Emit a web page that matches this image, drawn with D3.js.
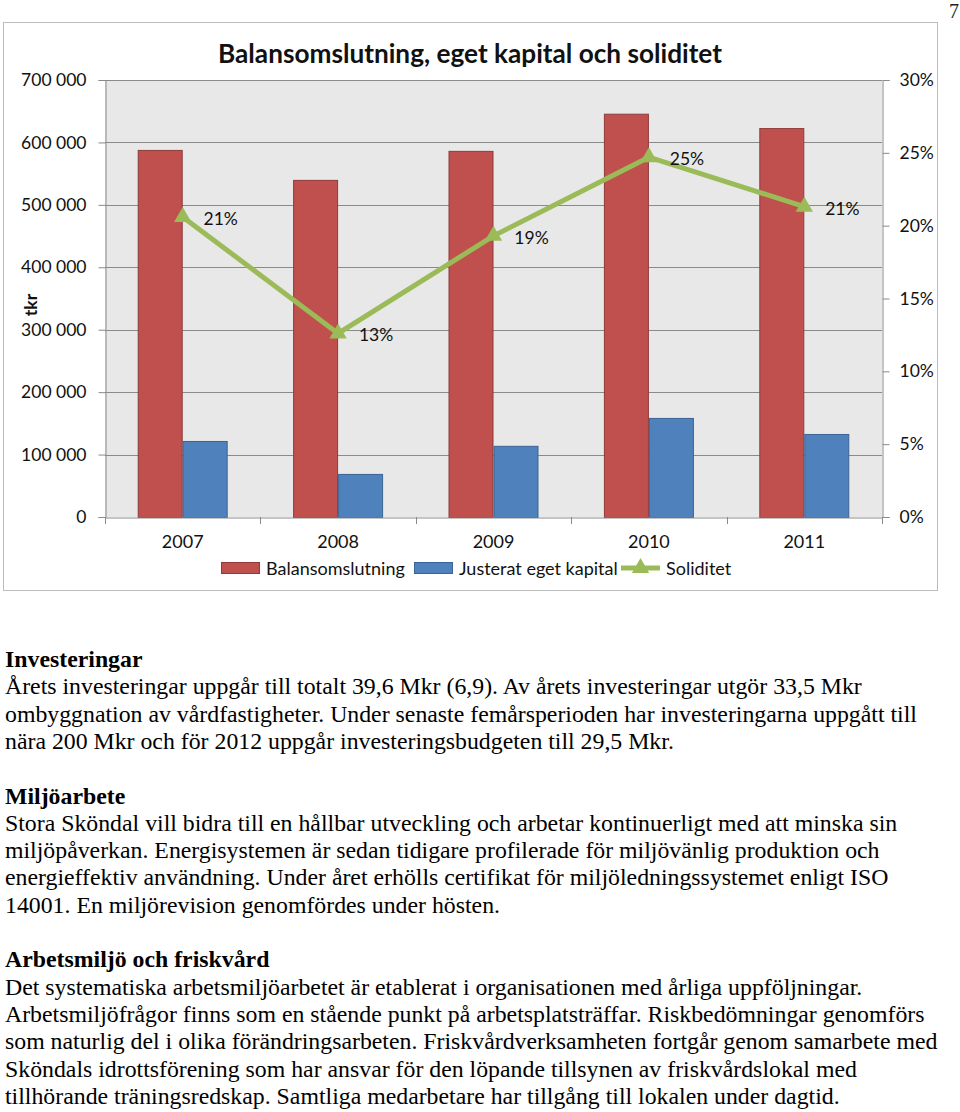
<!DOCTYPE html>
<html><head><meta charset="utf-8">
<script src="https://cdn.jsdelivr.net/npm/d3@7"></script>
<style>html,body{margin:0;padding:0;background:#fff;}svg{display:block;}</style>
</head><body>
<svg id="page" width="960" height="1112"></svg>
<script>
const years = ["2007", "2008", "2009", "2010", "2011"];
const balansomslutning = [588000, 540000, 586500, 646000, 623000];
const justeratEgetKapital = [121800, 69000, 114000, 158700, 133000];
const soliditet = [0.206, 0.126, 0.193, 0.247, 0.213];
const soliditetLabels = ["21%", "13%", "19%", "25%", "21%"];
const leftTicks = [0, 100000, 200000, 300000, 400000, 500000, 600000, 700000];
const rightTicks = [0, 0.05, 0.10, 0.15, 0.20, 0.25, 0.30];
const seriesNames = ["Balansomslutning", "Justerat eget kapital", "Soliditet"];
const chartTitle = "Balansomslutning, eget kapital och soliditet";
const yAxisTitle = "tkr";
const pageNumber = "7";
const textLines = [
  {t: "Investeringar", b: true},
  {t: "Årets investeringar uppgår till totalt 39,6 Mkr (6,9). Av årets investeringar utgör 33,5 Mkr"},
  {t: "ombyggnation av vårdfastigheter. Under senaste femårsperioden har investeringarna uppgått till"},
  {t: "nära 200 Mkr och för 2012 uppgår investeringsbudgeten till 29,5 Mkr."},
  {t: ""},
  {t: "Miljöarbete", b: true},
  {t: "Stora Sköndal vill bidra till en hållbar utveckling och arbetar kontinuerligt med att minska sin"},
  {t: "miljöpåverkan. Energisystemen är sedan tidigare profilerade för miljövänlig produktion och"},
  {t: "energieffektiv användning. Under året erhölls certifikat för miljöledningssystemet enligt ISO"},
  {t: "14001. En miljörevision genomfördes under hösten."},
  {t: ""},
  {t: "Arbetsmiljö och friskvård", b: true},
  {t: "Det systematiska arbetsmiljöarbetet är etablerat i organisationen med årliga uppföljningar."},
  {t: "Arbetsmiljöfrågor finns som en stående punkt på arbetsplatsträffar. Riskbedömningar genomförs"},
  {t: "som naturlig del i olika förändringsarbeten. Friskvårdverksamheten fortgår genom samarbete med"},
  {t: "Sköndals idrottsförening som har ansvar för den löpande tillsynen av friskvårdslokal med"},
  {t: "tillhörande träningsredskap. Samtliga medarbetare har tillgång till lokalen under dagtid."}
];

const RED = "#C0504D", RED_S = "#8E3B39", BLUE = "#4F81BD", BLUE_S = "#3A6494", GREEN = "#9BBB59";
const GRID = "#8A8A8A", FONT = "Lato, 'Open Sans', sans-serif", SERIF = "'Liberation Serif', 'Times New Roman', serif";

const svg = d3.select("#page");

// page number
svg.append("text").attr("x", 959).attr("y", 18).attr("text-anchor", "end")
  .attr("font-family", SERIF).attr("font-size", 20).attr("fill", "#222").text(pageNumber);

// chart frame
svg.append("rect").attr("x", 3.5).attr("y", 22.5).attr("width", 934).attr("height", 568)
  .attr("fill", "#fff").attr("stroke", "#BDBDBD").attr("stroke-width", 1);

const L = 105, R = 882, T = 80, B = 517;
const x = d3.scaleBand().domain(years).range([L, R]).paddingInner(0).paddingOuter(0);
const xs = d3.scaleBand().domain(seriesNames.slice(0, 2)).range([0, x.bandwidth()]).paddingInner(0).paddingOuter(0.727);
const yL = d3.scaleLinear().domain([0, 700000]).range([B, T]);
const yR = d3.scaleLinear().domain([0, 0.30]).range([B, T]);

// plot background
svg.append("rect").attr("x", L).attr("y", T).attr("width", R - L).attr("height", B - T).attr("fill", "#E8E8E8");

// gridlines
const fmt = d => d3.format(",")(d).replace(/,/g, " ");
svg.append("g").selectAll("line").data(leftTicks.filter(d => d > 0)).join("line")
  .attr("x1", L).attr("x2", R).attr("y1", d => Math.round(yL(d)) + 0.5).attr("y2", d => Math.round(yL(d)) + 0.5)
  .attr("stroke", GRID).attr("stroke-width", 1);

// left axis
const gl = svg.append("g").attr("transform", `translate(${L + 0.5},0)`)
  .call(d3.axisLeft(yL).tickValues(leftTicks).tickFormat(fmt).tickSize(7).tickPadding(12));
gl.select(".domain").attr("stroke", GRID);
gl.selectAll(".tick line").attr("stroke", GRID);
gl.selectAll(".tick text").attr("font-family", FONT).attr("font-size", 17.5).attr("fill", "#111");

// right axis
const gr = svg.append("g").attr("transform", `translate(${R + 0.5},0)`)
  .call(d3.axisRight(yR).tickValues(rightTicks).tickFormat(d3.format(".0%")).tickSize(7).tickPadding(10));
gr.select(".domain").attr("stroke", GRID);
gr.selectAll(".tick line").attr("stroke", GRID);
gr.selectAll(".tick text").attr("font-family", FONT).attr("font-size", 17.5).attr("fill", "#111");

// bars
const barData = years.map((y, i) => [
  {year: y, s: seriesNames[0], v: balansomslutning[i], f: RED, st: RED_S},
  {year: y, s: seriesNames[1], v: justeratEgetKapital[i], f: BLUE, st: BLUE_S}
]).flat();
svg.append("g").selectAll("rect").data(barData).join("rect")
  .attr("x", d => x(d.year) + xs(d.s) + 0.5)
  .attr("y", d => yL(d.v) + 0.5)
  .attr("width", xs.bandwidth() - 1)
  .attr("height", d => B - yL(d.v))
  .attr("fill", d => d.f).attr("stroke", d => d.st).attr("stroke-width", 1);

// x axis
const gx = svg.append("g").attr("transform", `translate(0,${B + 0.5})`)
  .call(d3.axisBottom(x).tickSize(0).tickPadding(18));
gx.select(".domain").attr("stroke", GRID);
gx.selectAll(".tick text").attr("font-family", FONT).attr("font-size", 18).attr("fill", "#111");
const bounds = years.map(y => x(y)).concat([R]);
svg.append("g").selectAll("line").data(bounds).join("line")
  .attr("x1", d => Math.round(d) + 0.5).attr("x2", d => Math.round(d) + 0.5)
  .attr("y1", B).attr("y2", B + 7).attr("stroke", GRID);

// soliditet line
const pts = years.map((y, i) => [x(y) + x.bandwidth() / 2, yR(soliditet[i])]);
svg.append("path").attr("d", d3.line()(pts)).attr("fill", "none")
  .attr("stroke", GREEN).attr("stroke-width", 5);
const tri = d3.symbol().type(d3.symbolTriangle).size(130);
svg.append("g").selectAll("path").data(pts).join("path")
  .attr("transform", d => `translate(${d[0]},${d[1]})`).attr("d", tri).attr("fill", GREEN);
svg.append("g").selectAll("text").data(pts).join("text")
  .attr("x", d => d[0] + 38).attr("y", d => d[1] + 8)
  .attr("text-anchor", "middle").attr("font-family", FONT).attr("font-size", 17.5).attr("fill", "#111")
  .text((d, i) => soliditetLabels[i]);

// title
svg.append("text").attr("x", 470).attr("y", 63).attr("text-anchor", "middle")
  .attr("font-family", FONT).attr("font-weight", "bold").attr("font-size", 26.2).attr("fill", "#111").text(chartTitle);

// y axis title
svg.append("text").attr("transform", "translate(37,305) rotate(-90)").attr("text-anchor", "middle")
  .attr("font-family", FONT).attr("font-weight", "bold").attr("font-size", 17.5).attr("fill", "#111").text(yAxisTitle);

// legend
const lg = svg.append("g");
const legendItems = [
  {name: seriesNames[0], x: 221, type: "bar", f: RED, st: RED_S},
  {name: seriesNames[1], x: 414, type: "bar", f: BLUE, st: BLUE_S},
  {name: seriesNames[2], x: 621, type: "line", f: GREEN}
];
legendItems.forEach(it => {
  if (it.type === "bar") {
    lg.append("rect").attr("x", it.x + 0.5).attr("y", 562.5).attr("width", 38).attr("height", 11)
      .attr("fill", it.f).attr("stroke", it.st);
  } else {
    lg.append("line").attr("x1", it.x).attr("x2", it.x + 39).attr("y1", 568).attr("y2", 568)
      .attr("stroke", it.f).attr("stroke-width", 5);
    lg.append("path").attr("transform", `translate(${it.x + 19.5},568)`).attr("d", tri).attr("fill", it.f);
  }
  lg.append("text").attr("x", it.x + 45).attr("y", 574.5).attr("font-family", FONT).attr("font-size", 18)
    .attr("fill", "#111").text(it.name);
});

// body text
const tg = svg.append("g");
tg.selectAll("text").data(textLines).join("text")
  .attr("x", 5).attr("y", (d, i) => 667 + i * 27.3)
  .attr("font-family", SERIF).attr("font-size", 23.8).attr("fill", "#000")
  .attr("font-weight", d => d.b ? "bold" : "normal")
  .text(d => d.t);
</script>
</body></html>
